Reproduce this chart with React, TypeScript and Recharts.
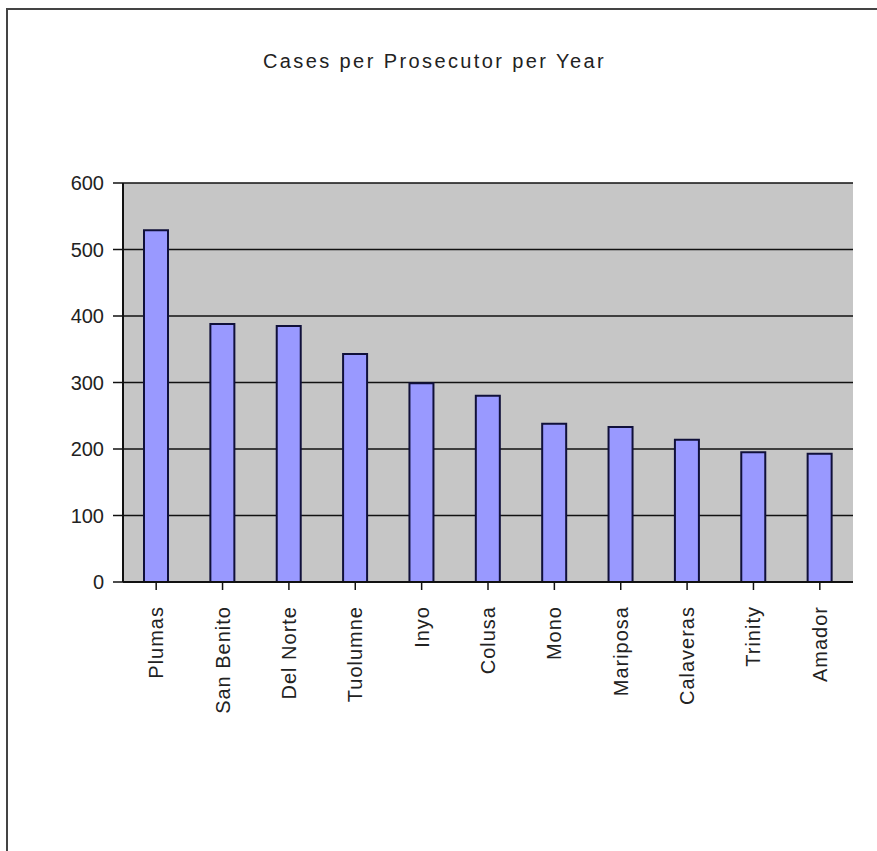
import { BarChart, Bar, XAxis, YAxis, CartesianGrid } from "recharts";

const counties = [
  "Plumas",
  "San Benito",
  "Del Norte",
  "Tuolumne",
  "Inyo",
  "Colusa",
  "Mono",
  "Mariposa",
  "Calaveras",
  "Trinity",
  "Amador",
];
const casesPerProsecutor = [529, 388, 385, 343, 299, 280, 238, 233, 214, 195, 193];
const yTicks = [0, 100, 200, 300, 400, 500, 600];

const data = counties.map((name, i) => ({ name, cases: casesPerProsecutor[i] }));

const FONT = "'Liberation Sans', Arial, sans-serif";

function RotatedTick(props: any) {
  const { x, y, payload } = props;
  const ty = y + 14;
  return (
    <text
      x={x}
      y={ty}
      transform={`rotate(-90, ${x}, ${ty})`}
      textAnchor="end"
      dy="0.35em"
      fontSize={20}
      letterSpacing={1}
      fontFamily={FONT}
      fill="#222"
    >
      {payload.value}
    </text>
  );
}

export default function App() {
  return (
    <div style={{ position: "absolute", left: 0, top: 0, width: 877, height: 851, background: "#fff", overflow: "hidden" }}>
      {/* frame round the chart */}
      <div
        style={{
          position: "absolute",
          left: 6,
          top: 8,
          width: 900,
          height: 900,
          borderTop: "2px solid #444",
          borderLeft: "2px solid #444",
        }}
      />
      <div
        style={{
          position: "absolute",
          left: 0,
          top: 50,
          width: 869,
          textAlign: "center",
          fontFamily: FONT,
          fontSize: 20,
          letterSpacing: 2.4,
          color: "#222",
        }}
      >
        Cases per Prosecutor per Year
      </div>
      <BarChart
        width={877}
        height={851}
        data={data}
        margin={{ top: 183, right: 24, left: 63, bottom: 149 }}
        style={{ position: "absolute", left: 0, top: 0 }}
      >
        <CartesianGrid vertical={false} stroke="#111" strokeWidth={1.6} fill="#c6c6c6" fillOpacity={1} />
        <XAxis
          dataKey="name"
          height={120}
          interval={0}
          tick={<RotatedTick />}
          tickLine={{ stroke: "#111", strokeWidth: 1.5 }}
          tickSize={8}
          axisLine={{ stroke: "#111", strokeWidth: 2 }}
        />
        <YAxis
          width={60}
          domain={[0, 600]}
          ticks={yTicks}
          interval={0}
          tickSize={10}
          tickMargin={9}
          tick={{ fontSize: 20, fontFamily: FONT, fill: "#222" }}
          tickLine={{ stroke: "#111", strokeWidth: 1.5 }}
          axisLine={{ stroke: "#111", strokeWidth: 2 }}
        />
        <Bar dataKey="cases" fill="#9999ff" stroke="#10103a" strokeWidth={2} barSize={24} isAnimationActive={false} />
      </BarChart>
    </div>
  );
}
